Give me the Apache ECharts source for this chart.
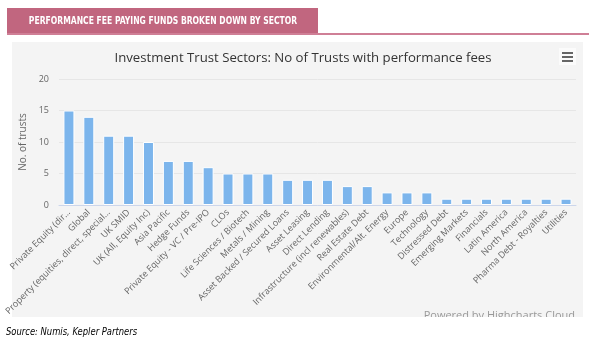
<!DOCTYPE html>
<html>
<head>
<meta charset="utf-8">
<script src="https://cdn.jsdelivr.net/npm/echarts@6/dist/echarts.min.js"></script>
<style>
html,body{margin:0;padding:0;background:#fff;}
#c{width:600px;height:346px;}
</style>
</head>
<body>
<div id="c"></div>
<script>
const categories = [
  "Private Equity (dir…", "Global", "Property (equities, direct, special…", "UK SMID",
  "UK (All, Equity Inc)", "Asia Pacific", "Hedge Funds", "Private Equity - VC / Pre-IPO",
  "CLOs", "Life Sciences / Biotech", "Metals / Mining", "Asset Backed / Secured Loans",
  "Asset Leasing", "Direct Lending", "Infrastructure (incl renewables)", "Real Estate Debt",
  "Environmental/Alt. Energy", "Europe", "Technology", "Distressed Debt", "Emerging Markets",
  "Financials", "Latin America", "North America", "Pharma Debt - Royalties", "Utilities"
];
const trusts = [15, 14, 11, 11, 10, 7, 7, 6, 5, 5, 5, 4, 4, 4, 3, 3, 2, 2, 2, 1, 1, 1, 1, 1, 1, 1];
const yTicks = [0, 5, 10, 15, 20];

const headerText = "PERFORMANCE FEE PAYING FUNDS BROKEN DOWN BY SECTOR";
const titleText = "Investment Trust Sectors: No of Trusts with performance fees";
const creditText = "Powered by Highcharts Cloud";
const sourceText = "Source: Numis, Kepler Partners";

const chart = echarts.init(document.getElementById('c'), null, {renderer: 'canvas'});
const F = '"Open Sans", "DejaVu Sans", sans-serif';

chart.setOption({
  animation: false,
  backgroundColor: '#ffffff',
  title: {
    text: titleText,
    left: 298, top: 47, textAlign: 'center',
    textStyle: {fontFamily: F, fontSize: 13.2, fontWeight: 'normal', color: '#333333'}
  },
  grid: {left: 59, right: 24, top: 79, bottom: 141, containLabel: false},
  xAxis: {
    type: 'category',
    data: categories,
    axisLine: {lineStyle: {color: '#ccd6eb', width: 1}},
    axisTick: {show: false},
    axisLabel: {rotate: 45, interval: 0, margin: 6, fontFamily: F, fontSize: 9, color: '#666666'}
  },
  yAxis: {
    type: 'value',
    min: yTicks[0], max: yTicks[yTicks.length - 1], interval: 5,
    name: 'No. of trusts', nameLocation: 'middle', nameGap: 22, nameRotate: 90,
    nameTextStyle: {fontFamily: F, fontSize: 10, color: '#666666'},
    axisLine: {show: false}, axisTick: {show: false},
    axisLabel: {fontFamily: F, fontSize: 9, color: '#666666', margin: 10},
    splitLine: {lineStyle: {color: '#e6e6e6', width: 1}}
  },
  series: [{
    type: 'bar',
    data: trusts,
    barWidth: 11,
    itemStyle: {color: '#7cb5ec', borderColor: '#ffffff', borderWidth: 1}
  }],
  graphic: [
    {type: 'rect', z: -10, shape: {x: 12, y: 42, width: 571, height: 275}, style: {fill: '#f4f4f4'}},
    {type: 'rect', z: 10, shape: {x: 7, y: 8, width: 311, height: 25}, style: {fill: '#c1667f'}},
    {type: 'rect', z: 10, shape: {x: 7, y: 33, width: 582, height: 2}, style: {fill: '#cf7f96'}},
    {type: 'text', z: 11, x: 163, y: 21, scaleX: 0.85, style: {text: headerText, fill: '#ffffff', align: 'center', verticalAlign: 'middle',
      font: 'bold 10px "DejaVu Sans Condensed", sans-serif'}},
    {type: 'rect', z: 10, shape: {x: 559, y: 48, width: 17, height: 17}, style: {fill: '#fbfbfb'}},
    {type: 'rect', z: 11, shape: {x: 562, y: 52, width: 11, height: 2}, style: {fill: '#666666'}},
    {type: 'rect', z: 11, shape: {x: 562, y: 56, width: 11, height: 2}, style: {fill: '#666666'}},
    {type: 'rect', z: 11, shape: {x: 562, y: 60, width: 11, height: 2}, style: {fill: '#666666'}},
    {type: 'text', z: 5, x: 575, y: 310, style: {text: creditText, fill: '#999999', align: 'right', verticalAlign: 'top',
      font: '11px "Open Sans", "DejaVu Sans", sans-serif'}},
    {type: 'rect', z: 12, shape: {x: 0, y: 317, width: 600, height: 8}, style: {fill: '#ffffff'}},
    {type: 'text', z: 12, x: 6, y: 332, scaleX: 0.89, style: {text: sourceText, fill: '#000000', align: 'left', verticalAlign: 'middle',
      font: 'italic 10.5px "DejaVu Sans Condensed", sans-serif'}}
  ]
});
</script>
</body>
</html>
